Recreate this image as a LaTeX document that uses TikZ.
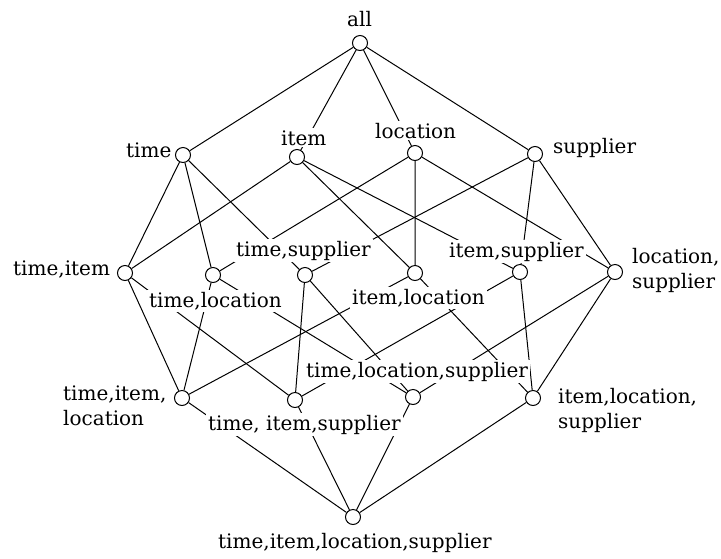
\documentclass[tikz,border=0pt]{standalone}
\usepackage{fontspec}
\setmainfont{DejaVu Serif}
\usepackage{tikz}
\tikzset{
    vertex/.style={draw, circle, fill=white, minimum size=15pt, inner sep=0pt, line width=1pt},
    dimname/.style={anchor=base west, fill=white, inner sep=2pt, align=left,
        font=\fontsize{20}{25}\selectfont},
    edge/.style={line width=1pt}
}

\begin{document}
\begin{tikzpicture}[x=1pt, y=-1pt]
    \useasboundingbox (0,0) rectangle (721,558);

    % cuboids, one level per row
    \node[vertex] (all) at (360,43) {};

    \node[vertex] (t) at (183,155) {};
    \node[vertex] (i) at (297,157) {};
    \node[vertex] (l) at (415,153) {};
    \node[vertex] (s) at (535,154) {};

    \node[vertex] (ti) at (125,273) {};
    \node[vertex] (tl) at (213,275) {};
    \node[vertex] (ts) at (305,275) {};
    \node[vertex] (il) at (415,273) {};
    \node[vertex] (is) at (520,272) {};
    \node[vertex] (ls) at (615,272) {};

    \node[vertex] (til) at (182,398) {};
    \node[vertex] (tis) at (295,400) {};
    \node[vertex] (tls) at (413,397) {};
    \node[vertex] (ils) at (533,398) {};

    \node[vertex] (tils) at (353,517) {};

    % roll-up edges
    \draw[edge] (all) -- (t) (all) -- (i) (all) -- (l) (all) -- (s);

    \draw[edge] (t) -- (ti) (t) -- (tl) (t) -- (ts);
    \draw[edge] (i) -- (ti) (i) -- (il) (i) -- (is);
    \draw[edge] (l) -- (tl) (l) -- (il) (l) -- (ls);
    \draw[edge] (s) -- (ts) (s) -- (is) (s) -- (ls);

    \draw[edge] (ti) -- (til) (ti) -- (tis);
    \draw[edge] (tl) -- (til) (tl) -- (tls);
    \draw[edge] (ts) -- (tis) (ts) -- (tls);
    \draw[edge] (il) -- (til) (il) -- (ils);
    \draw[edge] (is) -- (tis) (is) -- (ils);
    \draw[edge] (ls) -- (tls) (ls) -- (ils);

    \draw[edge] (til) -- (tils) (tis) -- (tils) (tls) -- (tils) (ils) -- (tils);

    % names go on top so the edges break around them
    % (two-line names: base is the second line)
    \node[dimname] (all-name) at (345,26) {all};

    \node[dimname] (t-name) at (124,157) {time};
    \node[dimname] (i-name) at (279,145) {item};
    \node[dimname] (l-name) at (373,138) {location};
    \node[dimname] (s-name) at (551,153) {supplier};

    \node[dimname] (ti-name) at (11,275) {time,item};
    \node[dimname] (tl-name) at (147,307) {time,location};
    \node[dimname] (ts-name) at (234,256) {time,supplier};
    \node[dimname] (il-name) at (350,304) {item,location};
    \node[dimname] (is-name) at (447,257) {item,supplier};
    \node[dimname] (ls-name) at (630,288) {location,\\supplier};

    \node[dimname] (til-name) at (61,425) {time,item,\\location};
    \node[dimname] (tis-name) at (206,430) {time, item,supplier};
    \node[dimname] (tls-name) at (304,377) {time,location,supplier};
    \node[dimname] (ils-name) at (556,428) {item,location,\\supplier};

    \node[dimname] (tils-name) at (216,548) {time,item,location,supplier};
\end{tikzpicture}
\end{document}
